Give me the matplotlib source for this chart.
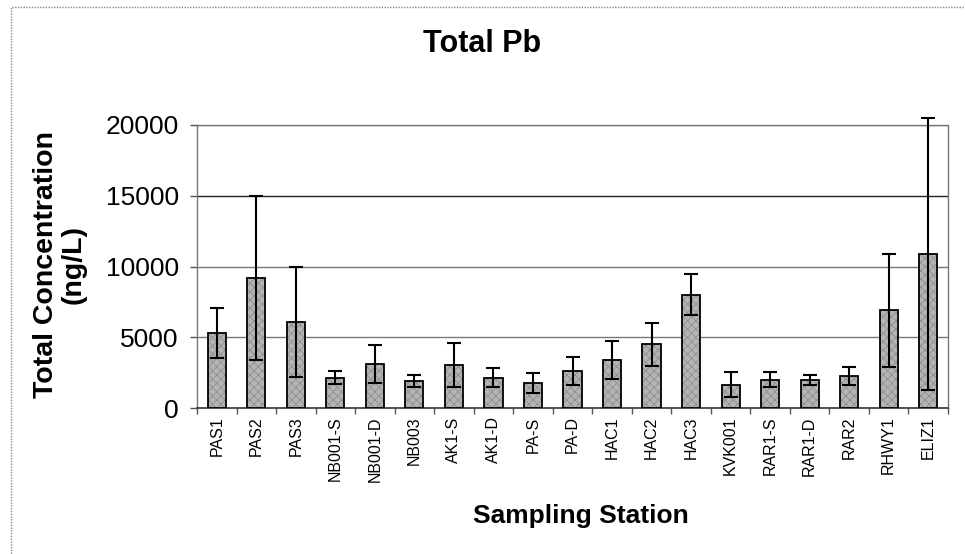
import matplotlib
matplotlib.use("Agg")
import matplotlib.pyplot as plt
from matplotlib.patches import Rectangle
import numpy as np

stations = ["PAS1", "PAS2", "PAS3", "NB001-S", "NB001-D", "NB003", "AK1-S", "AK1-D",
            "PA-S", "PA-D", "HAC1", "HAC2", "HAC3", "KVK001", "RAR1-S", "RAR1-D",
            "RAR2", "RHWY1", "ELIZ1"]
concentration = [5300, 9200, 6100, 2150, 3100, 1900, 3050, 2150, 1750, 2600,
                 3400, 4500, 8000, 1650, 2000, 2000, 2250, 6900, 10900]
std_error = [1800, 5800, 3900, 450, 1350, 420, 1550, 680, 700, 1000,
             1350, 1500, 1450, 900, 550, 350, 650, 4000, 9600]
y_ticks = [0, 5000, 10000, 15000, 20000]

plt.rcParams['font.family'] = ['Liberation Sans', 'DejaVu Sans']
plt.rcParams['hatch.color'] = '#8f8f8f'
plt.rcParams['hatch.linewidth'] = 0.6

fig = plt.figure(figsize=(9.65, 5.54), dpi=100)
ax = fig.add_axes([197 / 965, 1 - 408 / 554, (948 - 197) / 965, (408 - 125) / 554])

x = np.arange(len(stations))
bars = ax.bar(x, concentration, width=0.46, color='#b4b4b4', edgecolor='black',
              linewidth=1.3, hatch='xxxx', zorder=3)
for b in bars:
    b._hatch_color = matplotlib.colors.to_rgba('#8f8f8f')
ax.errorbar(x, concentration, yerr=std_error, fmt='none', ecolor='black',
            elinewidth=1.5, capsize=5, capthick=1.5, zorder=4, clip_on=False)

ax.set_xlim(-0.5, len(stations) - 0.5)
ax.set_ylim(0, 20000)
ax.set_yticks(y_ticks)
ax.set_yticklabels([str(v) for v in y_ticks], fontsize=19)
ax.tick_params(axis='y', length=5, width=1, pad=8, color='#555555')

ax.set_xticks(x)
ax.set_xticklabels(stations, rotation=90, fontsize=11.5, va='top', ha='center')
ax.tick_params(axis='x', which='major', length=0, pad=6)
ax.set_xticks(np.arange(len(stations) + 1) - 0.5, minor=True)
ax.tick_params(axis='x', which='minor', length=4, width=1, color='#555555')

for v in y_ticks[1:]:
    ax.axhline(v, color='#222222' if v == 15000 else '#7a7a7a',
               linewidth=1.0, zorder=1)

for side in ['top', 'right', 'left']:
    ax.spines[side].set_color('#777777')
    ax.spines[side].set_linewidth(1.0)
ax.spines['right'].set_linestyle((0, (1, 1)))
ax.spines['bottom'].set_color('#333333')
ax.spines['bottom'].set_linewidth(1.2)

fig.text(482 / 965, 1 - 44 / 554, "Total Pb", fontsize=22, fontweight='bold',
         ha='center', va='center')
fig.text(581 / 965, 1 - 516 / 554, "Sampling Station", fontsize=19,
         fontweight='bold', ha='center', va='center')
fig.text(60 / 965, 1 - 264 / 554, "Total Concentration\n(ng/L)", fontsize=20.5,
         fontweight='bold', ha='center', va='center', rotation=90,
         linespacing=1.1)

fig.patches.append(Rectangle((11 / 965, -0.02), 1.0, 1 - 7 / 554 + 0.02,
                             transform=fig.transFigure, fill=False,
                             edgecolor='#888888', linewidth=1.0,
                             linestyle=(0, (1, 1))))

fig.savefig("out.png", dpi=100)
